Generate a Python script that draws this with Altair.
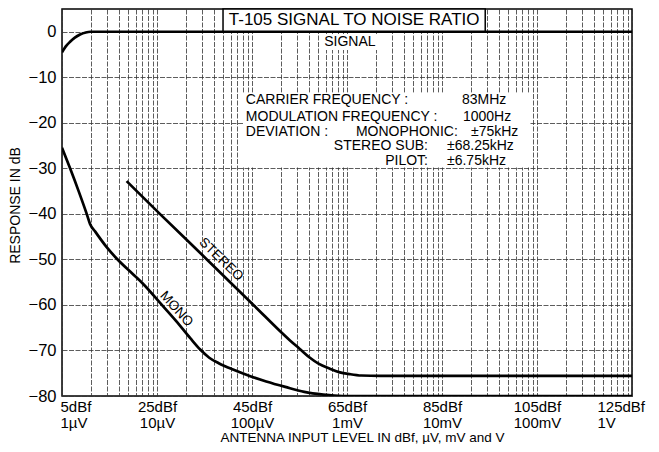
import math
import altair as alt
import pandas as pd

FONT = "Liberation Sans"

# ---- axis ticks / labels ----
x_major = [5, 25, 45, 65, 85, 105, 125]
x_lab_dbf = ["5dBf", "25dBf", "45dBf", "65dBf", "85dBf", "105dBf", "125dBf"]
x_lab_volt = ["1µV", "10µV", "100µV", "1mV", "10mV", "100mV", "1V"]
y_ticks = [-80, -70, -60, -50, -40, -30, -20, -10, 0]

# ---- curves (dBf, dB) ----
signal_x = [5, 5.8, 6.7, 7.7, 8.8, 10, 11, 125]
signal_y = [-4.5, -3.2, -2.2, -1.3, -0.6, -0.15, 0, 0]

mono_x = [5, 6.7, 8.5, 10.2, 10.9, 12, 14.4, 16.5, 20, 22.1, 25.6, 29, 32, 34.1,
          36, 38, 41, 44.5, 48, 52, 56, 60, 64, 125]
mono_y = [-25.5, -30, -35, -40, -42.2, -43.9, -47.3, -49.8, -53.3, -55.4, -59.5,
          -63.5, -67.3, -69.8, -71.6, -72.8, -74.2, -75.6, -76.8, -78.0, -79.1,
          -79.7, -80, -80]

stereo_x = [18.6, 25.6, 35.5, 45.3, 53, 55, 57.2, 59, 61.4, 63.5, 65.6, 68, 72, 125]
stereo_y = [-32.8, -40, -50, -60, -67.8, -69.6, -71.6, -72.9, -74.0, -74.8, -75.2,
            -75.5, -75.6, -75.6]

# ---- annotation texts ----
title_text = "T-105 SIGNAL TO NOISE RATIO"
info_left_text = ["CARRIER FREQUENCY :", "83MHz", "MODULATION FREQUENCY :", "1000Hz",
                  "DEVIATION :", "±75kHz", "±68.25kHz", "±6.75kHz"]
info_left_x = [43.7, 89.2, 43.7, 89.4, 43.7, 91.1, 86.05, 86.05]
info_left_y = [-15.0, -15.0, -18.7, -18.7, -21.95, -21.95, -25.2, -28.45]
info_right_text = ["STEREO SUB:", "PILOT:"]
info_right_x = [82.05, 82.05]
info_right_y = [-25.2, -28.45]
info_center_text = ["MONOPHONIC:"]
info_center_x = [77.6]
info_center_y = [-21.95]
curve_lab_text = ["STEREO", "MONO"]
curve_lab_x = [38.5, 29.1]
curve_lab_y = [-50.0, -60.9]
curve_lab_angle = [44, 48]

# log grid within each 20 dB (one decade of voltage) step
grid_x = sorted(set(x_major + [round(d + 20 * math.log10(k), 4)
                               for d in x_major[:-1] for k in range(2, 10)]))

label_expr = "''"
for v, a, b in reversed(list(zip(x_major, x_lab_dbf, x_lab_volt))):
    label_expr = f"datum.value == {v} ? ['{a}', '{b}'] : {label_expr}"

lines_df = pd.concat([
    pd.DataFrame({"x": signal_x, "y": signal_y, "s": "signal"}),
    pd.DataFrame({"x": mono_x, "y": mono_y, "s": "mono"}),
    pd.DataFrame({"x": stereo_x, "y": stereo_y, "s": "stereo"}),
])

xscale = alt.Scale(domain=[5, 125], nice=False, zero=False)
yscale = alt.Scale(domain=[-80, 5], nice=False, zero=False)

x_axis = alt.Axis(
    values=grid_x, grid=True, gridColor="#333", gridWidth=0.8, gridDash=[5, 1.5],
    ticks=False, domain=False, labelExpr=label_expr, labelFontSize=15,
    labelLineHeight=16, labelPadding=3, labelOverlap=False, labelBound=False,
    labelFlush=False,
    labelAlign={"condition": {"test": "datum.value == 5 || datum.value == 125", "value": "left"},
                "value": "center"},
    labelOffset={"condition": [{"test": "datum.value == 125", "value": -35},
                               {"test": "datum.value == 5", "value": -2}],
                 "value": 0},
    title="ANTENNA INPUT LEVEL IN dBf, µV, mV and V", titleFontSize=13.5,
    titleX=300, titleY=45, titleBaseline="alphabetic", titleAlign="center",
)
y_axis = alt.Axis(
    values=y_ticks, grid=True, gridColor="#333", gridWidth=0.8, gridDash=[5, 1.5],
    ticks=False, domain=False, labelFontSize=16.5, labelPadding=6,
    title="RESPONSE IN dB", titleFontSize=14, titleX=-47, titleY=196,
    titleBaseline="middle", titleAlign="center", titleAngle=-90,
)

X = alt.X("x:Q", scale=xscale, axis=x_axis)
Y = alt.Y("y:Q", scale=yscale, axis=y_axis)

lines = alt.Chart(lines_df).mark_line(
    color="black", strokeWidth=2.7, interpolate="monotone", clip=True
).encode(x=X, y=Y, detail="s:N")

boxes_df = pd.DataFrame({
    "x": [43.1, 59.7], "x2": [103.5, 71.5],
    "y": [-13.4, -0.5], "y2": [-29.8, -4.0],
})
boxes = alt.Chart(boxes_df).mark_rect(color="white").encode(
    x=X, x2="x2:Q", y=Y, y2="y2:Q",
)
title_box_df = pd.DataFrame({"x": [38.9], "x2": [94.1], "y": [5], "y2": [0]})
title_box = alt.Chart(title_box_df).mark_rect(
    fill="white", stroke="black", strokeWidth=1.5
).encode(x=X, x2="x2:Q", y=Y, y2="y2:Q")


def text_layer(df, align, size):
    return alt.Chart(df).mark_text(
        align=align, baseline="middle", font=FONT, fontSize=size, color="black"
    ).encode(x=X, y=Y, text="t:N")


title_t = text_layer(pd.DataFrame({"x": [66.5], "y": [2.55], "t": [title_text]}), "center", 17)
signal_t = text_layer(pd.DataFrame({"x": [65.6], "y": [-2.25], "t": ["SIGNAL"]}), "center", 14)
info_l = text_layer(pd.DataFrame({"x": info_left_x, "y": info_left_y, "t": info_left_text}), "left", 14)
info_r = text_layer(pd.DataFrame({"x": info_right_x, "y": info_right_y, "t": info_right_text}), "right", 14)
info_c = text_layer(pd.DataFrame({"x": info_center_x, "y": info_center_y, "t": info_center_text}), "center", 14)
curve_t = alt.Chart(pd.DataFrame({"x": curve_lab_x, "y": curve_lab_y, "t": curve_lab_text,
                                  "a": curve_lab_angle})).mark_text(
    align="center", baseline="middle", font=FONT, fontSize=13.5, color="black"
).encode(x=X, y=Y, text="t:N", angle=alt.Angle("a:Q", scale=None))

chart = alt.layer(
    boxes, title_box, lines, title_t, signal_t, info_l, info_r, info_c, curve_t
).properties(
    width=570, height=387,
    autosize=alt.AutoSizeParams(type="none"),
    padding={"left": 54, "top": 1, "right": 19, "bottom": 48},
).configure_view(
    stroke="black", strokeWidth=1.5
).configure_axis(
    labelFont=FONT, titleFont=FONT, labelColor="black", titleColor="black",
    titleFontWeight="normal",
)

chart.save("out.html", embed_options={"renderer": "svg", "actions": False})
